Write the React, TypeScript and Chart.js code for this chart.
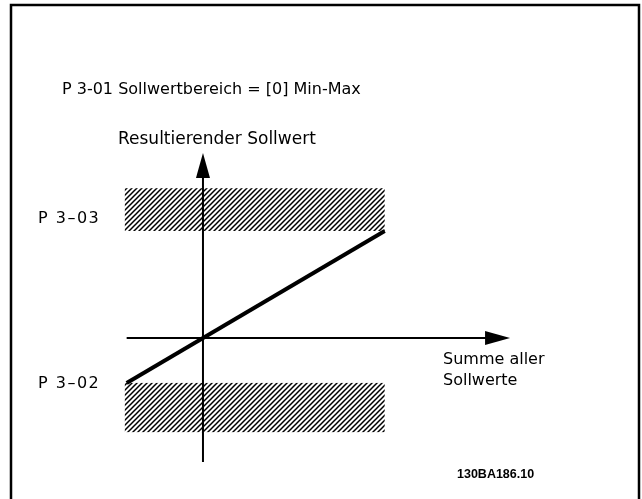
import React, { useEffect, useRef } from "react";
import { Chart, registerables } from "chart.js";

Chart.register(...registerables);

// ---- data (diagram units) ----
const sumValues = [-42, 100]; // Summe aller Sollwerte
const resultValues = [-42, 100]; // Resultierender Sollwert
const refMin = -42; // P 3-02
const refMax = 100; // P 3-03
const upperBand = [100, 140];
const lowerBand = [-88, -42];
const bandX = [-43, 100];
const xAxisExtent = [-42, 169];
const yAxisExtent = [-116, 173];

const titleText = "P 3-01 Sollwertbereich = [0] Min-Max";
const yAxisTitle = "Resultierender Sollwert";
const xAxisTitle = ["Summe aller", "Sollwerte"];
const refMinLabel = "P 3\u201302";
const refMaxLabel = "P 3\u201303";
const figureId = "130BA186.10";

const FONT = "'DejaVu Sans', Verdana, sans-serif";

const diagramPlugin = {
  id: "diagram",
  beforeDatasetsDraw(chart: any) {
    const { ctx, scales } = chart;
    const x = scales.x;
    const y = scales.y;
    const tile = document.createElement("canvas");
    tile.width = 5;
    tile.height = 5;
    const t = tile.getContext("2d")!;
    t.strokeStyle = "#000";
    t.lineWidth = 1.5;
    t.beginPath();
    t.moveTo(-1, 6);
    t.lineTo(6, -1);
    t.moveTo(-1, 1);
    t.lineTo(1, -1);
    t.moveTo(4, 6);
    t.lineTo(6, 4);
    t.stroke();
    const pat = ctx.createPattern(tile, "repeat");
    ctx.save();
    ctx.fillStyle = pat;
    for (const band of [upperBand, lowerBand]) {
      const l = x.getPixelForValue(bandX[0]);
      const r = x.getPixelForValue(bandX[1]);
      const top = y.getPixelForValue(band[1]);
      const bot = y.getPixelForValue(band[0]);
      ctx.fillRect(l, top, r - l, bot - top);
    }
    ctx.restore();
  },
  afterDatasetsDraw(chart: any) {
    const { ctx, scales, width, height } = chart;
    const x = scales.x;
    const y = scales.y;
    const x0 = x.getPixelForValue(0);
    const y0 = y.getPixelForValue(0);
    ctx.save();
    ctx.fillStyle = "#000";
    // x arrow
    const xt = x.getPixelForValue(xAxisExtent[1]);
    ctx.beginPath();
    ctx.moveTo(xt, y0);
    ctx.lineTo(xt - 25, y0 - 7);
    ctx.lineTo(xt - 25, y0 + 7);
    ctx.closePath();
    ctx.fill();
    // y arrow
    const yt = y.getPixelForValue(yAxisExtent[1]);
    ctx.beginPath();
    ctx.moveTo(x0, yt);
    ctx.lineTo(x0 - 7, yt + 25);
    ctx.lineTo(x0 + 7, yt + 25);
    ctx.closePath();
    ctx.fill();

    // frame
    ctx.strokeStyle = "#000";
    ctx.lineWidth = 2.5;
    ctx.beginPath();
    ctx.moveTo(11, height);
    ctx.lineTo(11, 5);
    ctx.lineTo(width - 3, 5);
    ctx.lineTo(width - 3, height);
    ctx.stroke();

    // texts
    ctx.textBaseline = "alphabetic";
    ctx.textAlign = "left";
    ctx.font = `16px ${FONT}`;
    ctx.fillText(titleText, 62, 94);
    ctx.fillText(xAxisTitle[0], 443, 364);
    ctx.fillText(xAxisTitle[1], 443, 385);
    ctx.font = `17px ${FONT}`;
    ctx.fillText(yAxisTitle, 118, 144);

    ctx.font = `16px ${FONT}`;
    (ctx as any).letterSpacing = "1.5px";
    ctx.fillText(refMaxLabel, 38, y.getPixelForValue(refMax) - 8);
    ctx.fillText(refMinLabel, 38, y.getPixelForValue(refMin) + 5);
    (ctx as any).letterSpacing = "0px";

    ctx.font = `bold 12.5px 'Liberation Sans', Arial, sans-serif`;
    ctx.fillText(figureId, 457, 478);
    ctx.restore();
  },
};

export default function App() {
  const ref = useRef<HTMLCanvasElement>(null);
  useEffect(() => {
    if (!ref.current) return;
    const chart = new Chart(ref.current, {
      type: "scatter",
      data: {
        datasets: [
          {
            data: [
              { x: xAxisExtent[0], y: 0 },
              { x: xAxisExtent[1] - 5, y: 0 },
            ],
            showLine: true,
            borderColor: "#000",
            borderWidth: 2,
            pointRadius: 0,
          },
          {
            data: [
              { x: 0, y: yAxisExtent[0] },
              { x: 0, y: yAxisExtent[1] - 5 },
            ],
            showLine: true,
            borderColor: "#000",
            borderWidth: 2,
            pointRadius: 0,
          },
          {
            data: sumValues.map((v, i) => ({ x: v, y: resultValues[i] })),
            showLine: true,
            borderColor: "#000",
            borderWidth: 4,
            pointRadius: 0,
            borderCapStyle: "butt",
          },
        ],
      },
      options: {
        animation: false,
        responsive: false,
        maintainAspectRatio: false,
        layout: { padding: 0 },
        plugins: { legend: { display: false }, tooltip: { enabled: false }, title: { display: false } },
        scales: {
          x: { type: "linear", display: false, min: -111.7, max: 241.6 },
          y: { type: "linear", display: false, min: -150.5, max: 315.9 },
        },
      },
      plugins: [diagramPlugin],
    });
    return () => chart.destroy();
  }, []);
  return (
    <canvas
      ref={ref}
      width={642}
      height={499}
      style={{ position: "fixed", left: 0, top: 0, width: 642, height: 499, background: "#fff" }}
    />
  );
}
